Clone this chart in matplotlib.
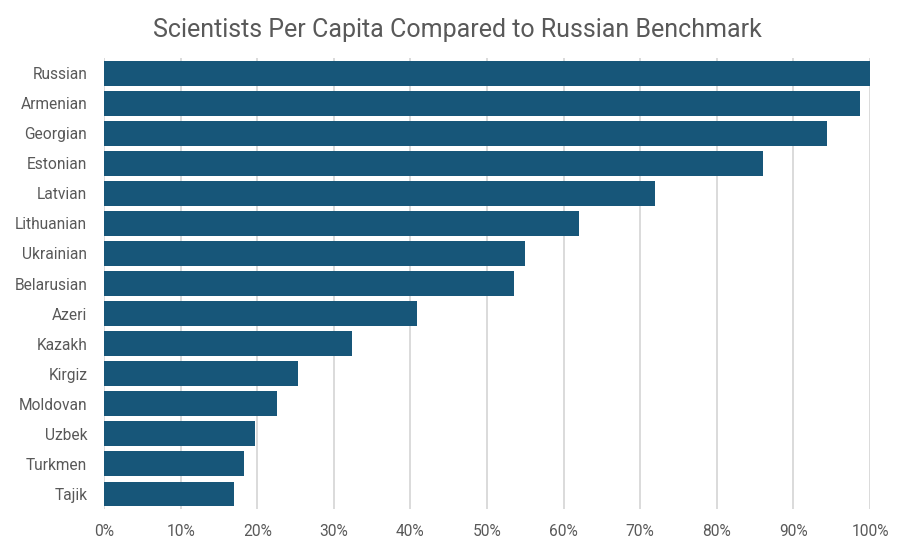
import matplotlib.pyplot as plt
from matplotlib.ticker import PercentFormatter

plt.rcParams['font.family'] = ['Roboto', 'DejaVu Sans']

# values (share of Russian benchmark, %)
groups = ['Russian', 'Armenian', 'Georgian', 'Estonian', 'Latvian', 'Lithuanian',
          'Ukrainian', 'Belarusian', 'Azeri', 'Kazakh', 'Kirgiz', 'Moldovan',
          'Uzbek', 'Turkmen', 'Tajik']
share = [100, 98.7, 94.4, 86.0, 71.9, 62.0, 55.0, 53.5, 40.9, 32.4, 25.3, 22.6,
         19.7, 18.3, 17.0]
xticks = [0, 10, 20, 30, 40, 50, 60, 70, 80, 90, 100]

grey = '#595959'

fig = plt.figure(figsize=(9, 5.44), dpi=100)
ax = fig.add_axes([0.1156, 0.0643, 0.851, 0.829])

ax.barh(groups, share, height=0.83, color='#175679', zorder=2)
ax.set_xlim(0, 100)
ax.set_ylim(len(groups) - 0.5, -0.5)
ax.set_xticks(xticks)
ax.xaxis.set_major_formatter(PercentFormatter(decimals=0))
ax.grid(axis='x', color='#d4d4d4', linewidth=1.2, zorder=0)
ax.set_axisbelow(True)
for s in ax.spines.values():
    s.set_visible(False)
ax.tick_params(axis='both', length=0, colors=grey, labelsize=11.2)
ax.tick_params(axis='x', pad=11)
ax.tick_params(axis='y', pad=12)

fig.text(0.508, 0.945, 'Scientists Per Capita Compared to Russian Benchmark',
         ha='center', va='center', fontsize=18, color=grey)

fig.savefig('out.png', dpi=100)
